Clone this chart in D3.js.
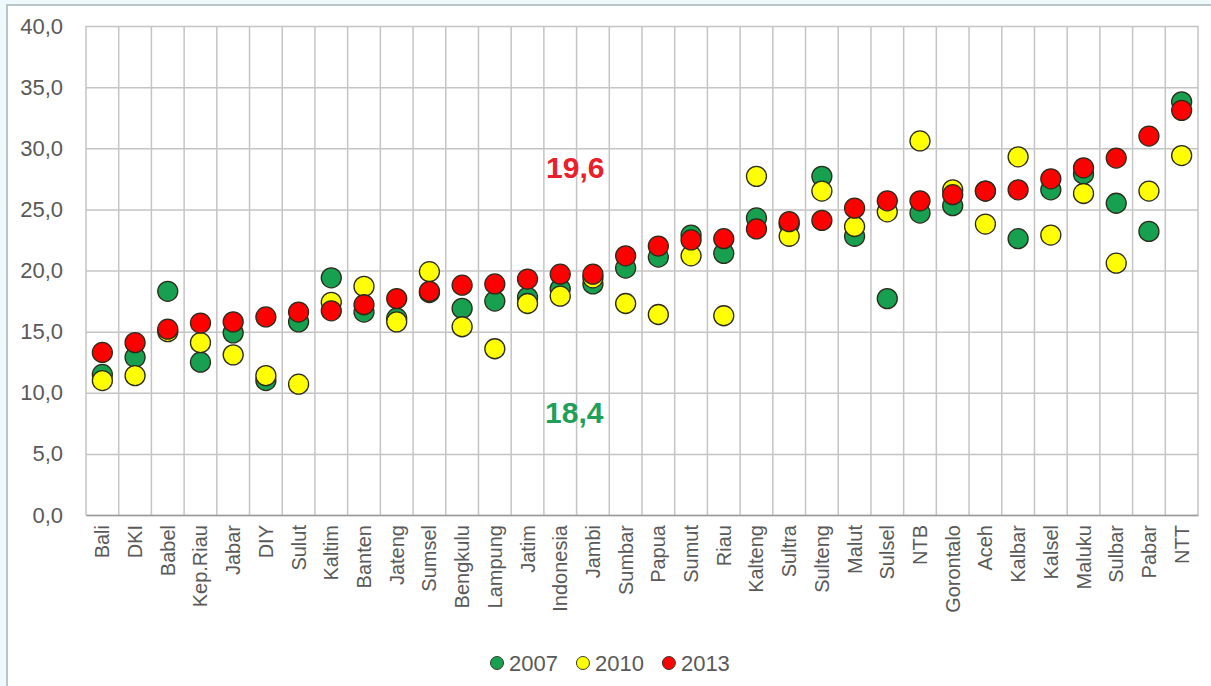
<!DOCTYPE html>
<html>
<head>
<meta charset="utf-8">
<script src="https://cdnjs.cloudflare.com/ajax/libs/d3/7.8.5/d3.min.js"></script>
<style>
    body { margin: 0; background: #eef9fb; }
    svg { display: block; font-family: 'Liberation Sans', Arial, sans-serif; }
</style>
</head>
<body>
<div id="chart"></div>
<script>
// provinces, sorted as in the original figure
var provinces = ['Bali', 'DKI', 'Babel', 'Kep.Riau', 'Jabar', 'DIY', 'Sulut', 'Kaltim', 'Banten', 'Jateng',
    'Sumsel', 'Bengkulu', 'Lampung', 'Jatim', 'Indonesia', 'Jambi', 'Sumbar', 'Papua', 'Sumut', 'Riau',
    'Kalteng', 'Sultra', 'Sulteng', 'Malut', 'Sulsel', 'NTB', 'Gorontalo', 'Aceh', 'Kalbar', 'Kalsel',
    'Maluku', 'Sulbar', 'Pabar', 'NTT'];

var v2007 = [11.5, 12.9, 18.3, 12.5, 14.9, 11.0, 15.8, 19.4, 16.6, 16.1,
    18.2, 16.9, 17.5, 17.8, 18.5, 18.9, 20.2, 21.1, 22.9, 21.4,
    24.3, 23.8, 27.7, 22.8, 17.7, 24.7, 25.3, 26.5, 22.6, 26.6,
    27.9, 25.5, 23.2, 33.8];

var v2010 = [11.0, 11.4, 15.0, 14.1, 13.1, 11.4, 10.7, 17.4, 18.7, 15.8,
    19.9, 15.4, 13.6, 17.3, 17.9, 19.4, 17.3, 16.4, 21.2, 16.3,
    27.7, 22.8, 26.5, 23.6, 24.8, 30.6, 26.6, 23.8, 29.3, 22.9,
    26.3, 20.6, 26.5, 29.4];

var v2013 = [13.3, 14.1, 15.2, 15.7, 15.8, 16.2, 16.6, 16.7, 17.2, 17.7,
    18.3, 18.8, 18.9, 19.3, 19.7, 19.7, 21.2, 22.0, 22.5, 22.6,
    23.4, 24.0, 24.1, 25.1, 25.7, 25.7, 26.2, 26.5, 26.6, 27.5,
    28.4, 29.2, 31.0, 33.1];

var years = ['2007', '2010', '2013'];
var yTicks = [0, 5, 10, 15, 20, 25, 30, 35, 40];
var notes = [
    { text: '19,6', value: 19.6, year: '2013' },
    { text: '18,4', value: 18.4, year: '2007' }
];

var colors = { '2007': '#17a050', '2010': '#ffff00', '2013': '#ff0000' };

var fullwidth = 1211;
var fullheight = 686;
var margin = { top: 26, right: 13, bottom: 171, left: 86 };
var width = fullwidth - margin.left - margin.right;
var height = fullheight - margin.top - margin.bottom;

var svg = d3.select('#chart')
    .append('svg')
    .attr('width', fullwidth)
    .attr('height', fullheight);

// frame
svg.append('rect')
    .attr('x', 7).attr('y', 5)
    .attr('width', fullwidth).attr('height', fullheight)
    .attr('fill', '#fff')
    .attr('stroke', '#b9c5c8')
    .attr('stroke-width', 2);

var g = svg.append('g')
    .attr('transform', 'translate(' + margin.left + ',' + margin.top + ')');

var x = d3.scaleBand()
    .domain(provinces)
    .range([0, width]);

var y = d3.scaleLinear()
    .domain([0, 40])
    .range([height, 0]);

var fmt = function(d) { return d3.format('.1f')(d).replace('.', ','); };

// horizontal grid + y labels
var yAxis = d3.axisLeft(y)
    .tickValues(yTicks)
    .tickSize(-width)
    .tickPadding(23)
    .tickFormat(fmt);

g.append('g')
    .attr('class', 'y-axis')
    .call(yAxis)
    .call(function(sel) {
        sel.select('.domain').remove();
        sel.selectAll('line').attr('stroke', '#c4c4c4').attr('stroke-width', 1.5);
        sel.selectAll('text')
            .attr('fill', '#595959')
            .style('font-size', '22px');
    });

// vertical grid at category boundaries
g.append('g')
    .selectAll('line')
    .data(provinces.concat(['__end']))
    .enter()
    .append('line')
    .attr('x1', function(d, i) { return i < provinces.length ? x(d) : width; })
    .attr('x2', function(d, i) { return i < provinces.length ? x(d) : width; })
    .attr('y1', 0)
    .attr('y2', height)
    .attr('stroke', '#c4c4c4')
    .attr('stroke-width', 1.5);

// x axis
var xAxis = d3.axisBottom(x).tickSize(0).tickPadding(10);
g.append('g')
    .attr('transform', 'translate(0,' + height + ')')
    .call(xAxis)
    .call(function(sel) {
        sel.select('.domain').attr('stroke', '#9a9a9a').attr('stroke-width', 1.5);
        sel.selectAll('text')
            .attr('fill', '#595959')
            .style('font-size', '20px')
            .attr('text-anchor', 'end')
            .attr('dy', '0.35em')
            .attr('transform', 'translate(0,10) rotate(-90)')
            .attr('x', 0)
            .attr('y', 0);
    });

// dots: 2007 first, then 2010, 2013 on top
var series = [
    { year: '2007', values: v2007 },
    { year: '2010', values: v2010 },
    { year: '2013', values: v2013 }
];

series.forEach(function(s) {
    g.append('g')
        .selectAll('circle')
        .data(s.values)
        .enter()
        .append('circle')
        .attr('cx', function(d, i) { return x(provinces[i]) + x.bandwidth() / 2; })
        .attr('cy', function(d) { return y(d); })
        .attr('r', 10)
        .attr('fill', colors[s.year])
        .attr('stroke', '#2b2b1a')
        .attr('stroke-width', 1.3);
});

// Indonesia annotations
var ix = x('Indonesia') + x.bandwidth() / 2;
g.append('text')
    .attr('x', ix + 15)
    .attr('y', y(30) + 30)
    .attr('text-anchor', 'middle')
    .attr('fill', '#e8202a')
    .style('font-size', '30px')
    .style('font-weight', 'bold')
    .text(notes[0].text);

g.append('text')
    .attr('x', ix + 14)
    .attr('y', y(10) + 30)
    .attr('text-anchor', 'middle')
    .attr('fill', '#1fa05a')
    .style('font-size', '30px')
    .style('font-weight', 'bold')
    .text(notes[1].text);

// legend
var legend = svg.append('g').attr('transform', 'translate(497,663)');
var lx = 0;
years.forEach(function(yr) {
    var item = legend.append('g').attr('transform', 'translate(' + lx + ',0)');
    item.append('circle')
        .attr('r', 6.5)
        .attr('fill', colors[yr])
        .attr('stroke', '#3a3a2a')
        .attr('stroke-width', 1);
    var t = item.append('text')
        .attr('x', 12)
        .attr('dy', '0.36em')
        .attr('fill', '#595959')
        .style('font-size', '22px')
        .text(yr);
    lx += 12 + t.node().getComputedTextLength() + 25;
});
</script>
</body>
</html>
